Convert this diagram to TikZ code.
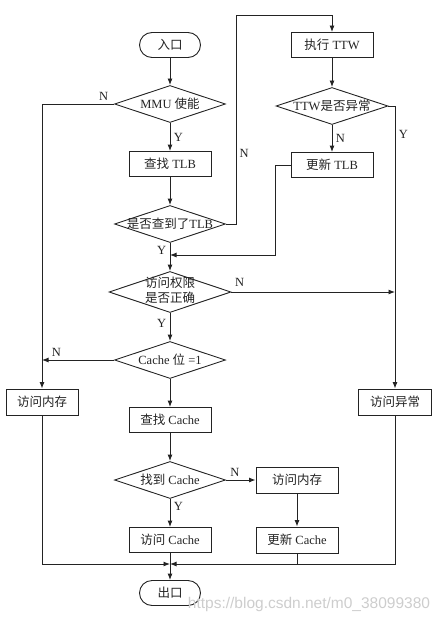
\documentclass[tikz,border=0pt]{standalone}
\usepackage{fontspec}
\setmainfont{Liberation Serif}
\newfontfamily\cjk{Noto Sans CJK SC}
\newfontfamily\wmfont{Liberation Sans}
\usetikzlibrary{shapes.geometric,positioning,arrows.meta}
\definecolor{linegray}{RGB}{35,35,35}
\definecolor{markgray}{RGB}{205,205,205}
\newcommand{\dtext}[1]{\makebox[0pt]{#1}}

\begin{document}
\begin{tikzpicture}[x=1pt,y=-1pt,>={Latex[length=6.5pt,width=5pt]},color=linegray,line width=0.9pt,
  font=\fontsize{12.5}{14.5}\selectfont,
  term/.style={draw,rounded corners=12.5pt,minimum width=61pt,minimum height=25pt},
  proc/.style={draw,minimum width=82pt,minimum height=25pt},
  decision/.style={draw,diamond,inner sep=0pt,minimum width=111pt,minimum height=37pt}]
\useasboundingbox (0,0) rectangle (442,623);

\node[term] (entry) at (170,45) {{\cjk 入口}};
\node[decision,below of=entry,node distance=59pt] (mmu) {\dtext{MMU {\cjk 使能}}};
\node[proc,below of=mmu,node distance=60pt] (tlb) {{\cjk 查找} TLB};
\node[decision,below of=tlb,node distance=60pt] (hit) {\dtext{{\cjk 是否查到了}TLB}};
\node[decision,below of=hit,node distance=68pt,minimum width=122pt,minimum height=41pt] (perm) {\dtext{\cjk\begin{tabular}{@{}c@{}}访问权限\\是否正确\end{tabular}}};
\node[decision,below of=perm,node distance=68pt] (cbit) {\dtext{Cache {\cjk 位} =1}};
\node[proc,below of=cbit,node distance=60pt] (findc) {{\cjk 查找} Cache};
\node[decision,below of=findc,node distance=60pt] (gotc) {\dtext{{\cjk 找到} Cache}};
\node[proc,below of=gotc,node distance=60pt] (readc) {{\cjk 访问} Cache};
\node[term,below of=readc,node distance=53pt] (exit) {{\cjk 出口}};

\node[proc,right of=entry,node distance=162pt] (ttw) {{\cjk 执行} TTW};
\node[decision,below of=ttw,node distance=61pt,minimum width=112pt] (ttwerr) {\dtext{TTW{\cjk 是否异常}}};
\node[proc,below of=ttwerr,node distance=59pt] (tlbupd) {{\cjk 更新} TLB};

\node[proc,minimum width=72pt,minimum height=26pt] (mem) at (42,402) {{\cjk 访问内存}};
\node[proc,minimum width=73pt,minimum height=26pt] (fault) at (395,402) {{\cjk 访问异常}};
\node[proc,right of=gotc,node distance=127pt,minimum height=26pt] (mem2) {{\cjk 访问内存}};
\node[proc,below of=mem2,node distance=60pt,minimum height=26pt] (cupd) {{\cjk 更新} Cache};

\coordinate[above of=ttw,node distance=30pt] (ttwtop);
\coordinate[below of=hit,node distance=31pt] (join);
\coordinate[below of=readc,node distance=24pt] (merge);

\draw[->] (entry) to (mmu);
\draw[->] (mmu) to node[right] {Y} (tlb);
\draw[->] (mmu.west) node[above left,xshift=-2pt] {N} -| (mem);
\draw[->] (tlb) to (hit);
\draw[->] (hit.east) -- ++(10pt,0) |- node[pos=0.17,right] {N} (ttwtop) -- (ttw);
\draw[->] (ttw) to (ttwerr);
\draw[->] (ttwerr) to node[right] {N} (tlbupd);
\draw[->] (ttwerr.east) -| node[pos=0.55,right] {Y} (fault);
\draw[->] (tlbupd.west) -- ++(-15pt,0) |- (join);
\draw[->] (hit) to node[pos=0.28,left] {Y} (perm);
\draw[->] (perm.east) node[above right,yshift=2pt] {N} -- (perm.east -| fault);
\draw[->] (perm) to node[pos=0.38,left] {Y} (cbit);
\draw[->] (cbit.west) -- node[pos=0.8,above] {N} (cbit.west -| mem);
\draw[->] (cbit) to (findc);
\draw[->] (findc) to (gotc);
\draw[->] (gotc) to node[pos=0.3,above] {N} (mem2);
\draw[->] (gotc) to node[pos=0.28,right] {Y} (readc);
\draw[->] (mem2) to (cupd);
\draw[->] (readc) to (exit);
\draw[->] (mem) |- (merge);
\draw[->] (fault) |- (merge);
\draw (cupd) -- (cupd |- merge);

\node[text=markgray,font=\wmfont\fontsize{15.5}{18}\selectfont] (mark) at (309,604) {https://blog.csdn.net/m0\_38099380};
\end{tikzpicture}
\end{document}
